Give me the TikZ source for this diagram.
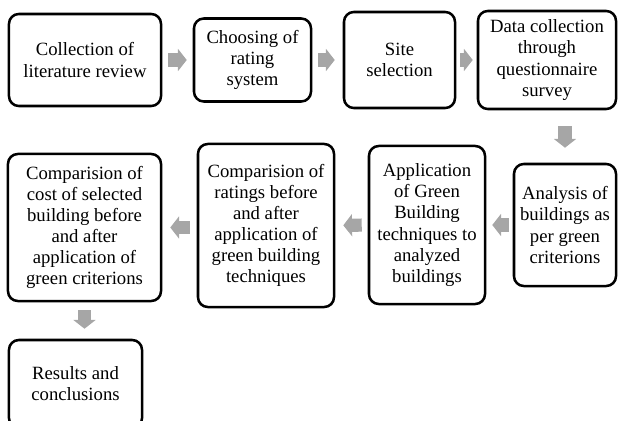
\documentclass[tikz,border=0pt]{standalone}
\usepackage{fontspec}
\setmainfont{Liberation Serif}
\usepackage{color}
\usetikzlibrary{arrows.meta}
\definecolor{arrowgray}{RGB}{166,166,166}

\begin{document}
\begin{tikzpicture}[x=0.025cm, y=-0.025cm,
	box/.style={draw, line width=1.8pt, rounded corners=7pt, align=center,
		inner sep=0pt, font=\fontsize{13.3}{15}\selectfont},
	flow/.style={draw=arrowgray, line width=0.33cm,
		-{Triangle[width=0.55cm, length=0.22cm]}}]
\useasboundingbox (0,0) rectangle (619,421);
\clip (0,0) rectangle (619,421);
% first row
\node[box, minimum width=3.8cm, minimum height=2.3cm] (lit) at (85,60) {Collection of\\literature review};
\node[box, minimum width=2.925cm, minimum height=2.075cm] (rating) at (252.5,60) {Choosing of\\rating\\system};
\node[box, minimum width=2.775cm, minimum height=2.4cm] (site) at (399.5,60) {Site\\selection};
\node[box, minimum width=3.45cm, minimum height=2.45cm] (survey) at (547,60) {Data collection\\through\\questionnaire\\survey};
% second row
\node[box, minimum width=2.55cm, minimum height=3.05cm] (analysis) at (565,225) {Analysis of\\buildings as\\per green\\criterions};
\node[box, minimum width=2.9cm, minimum height=3.95cm] (apply) at (427,225) {Application\\of Green\\Building\\techniques to\\analyzed\\buildings};
\node[box, minimum width=3.4cm, minimum height=4.075cm] (ratings) at (266,225.5) {Comparision of\\ratings before\\and after\\application of\\green building\\techniques};
\node[box, minimum width=3.825cm, minimum height=3.675cm] (cost) at (84.5,227.5) {Comparision of\\cost of selected\\building before\\and after\\application of\\green criterions};
% last
\node[box, minimum width=3.325cm, minimum height=2.2cm] (results) at (75.5,384) {Results and\\conclusions};

\draw[flow, shorten <=0.15cm, shorten >=0.15cm] (lit.east) -- (rating.west);
\draw[flow, shorten <=0.15cm, shorten >=0.2cm] (rating.east) -- (site.west);
\draw[flow, shorten <=0.1cm, shorten >=0.1cm] (site.east) -- (survey.west);
\draw[flow, shorten <=0.4cm, shorten >=0.375cm] (survey.south -| analysis.north) -- (analysis.north);
\draw[flow, shorten <=0.1cm, shorten >=0.15cm] (analysis.west) -- (apply.east);
\draw[flow, shorten <=0.15cm, shorten >=0.2cm] (apply.west) -- (ratings.east);
\draw[flow, shorten <=0.175cm, shorten >=0.2cm] (ratings.west |- cost.east) -- (cost.east);
\draw[flow, shorten <=0.2cm, shorten >=0.25cm] (cost.south) -- (cost.south |- results.north);
\end{tikzpicture}
\end{document}
